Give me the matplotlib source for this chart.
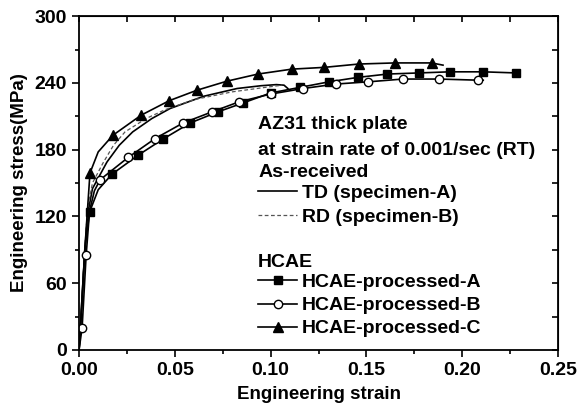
import matplotlib
matplotlib.use("Agg")
import matplotlib.pyplot as plt
from matplotlib.ticker import MultipleLocator, FormatStrFormatter

plt.rcParams["font.family"] = ["Liberation Sans", "DejaVu Sans"]
plt.rcParams["font.weight"] = "bold"

# --- data ---
# as-received, TD (solid) and RD (dashed)
td_strain = [0, 0.0015, 0.003, 0.0045, 0.007, 0.0146, 0.021, 0.028, 0.038, 0.0475,
             0.065, 0.0825, 0.095, 0.103, 0.107, 0.109]
td_stress = [0, 45, 90, 122, 145, 169, 184, 196, 208, 217, 228, 235, 237.5, 238.5, 238, 235]

rd_strain = [0, 0.0015, 0.003, 0.0045, 0.007, 0.0125, 0.018, 0.024, 0.035, 0.045,
             0.06, 0.08, 0.095, 0.106]
rd_stress = [0, 45, 92, 128, 150, 168, 184, 196, 208, 216, 225, 232, 235.5, 238]

# HCAE-processed-A (squares)
a_strain = [0, 0.0015, 0.003, 0.0055, 0.01, 0.0172, 0.0308, 0.0438, 0.058, 0.0725, 0.0856,
            0.100, 0.1153, 0.1305, 0.1456, 0.161, 0.1775, 0.1936, 0.211, 0.228]
a_stress = [0, 40, 90, 124, 144, 158, 175, 189.5, 204, 214, 222,
            231, 236, 241, 245, 248, 249, 250, 250, 249]
a_mark_strain = [0.0055, 0.0172, 0.0308, 0.0438, 0.058, 0.0725, 0.0856, 0.100, 0.1153,
                 0.1305, 0.1456, 0.161, 0.1775, 0.1936, 0.211, 0.228]
a_mark_stress = [124, 158, 175, 189.5, 204, 214, 222, 231, 236, 241, 245, 248, 249, 250, 250, 249]

# HCAE-processed-B (open circles)
b_strain = [0, 0.0016, 0.0037, 0.0055, 0.008, 0.011, 0.0256, 0.0397, 0.0543, 0.0694, 0.0835,
            0.100, 0.117, 0.134, 0.151, 0.169, 0.188, 0.208, 0.211]
b_stress = [0, 20, 85, 125, 143, 153, 173, 190, 204, 214, 223,
            230, 235, 239, 241, 243.5, 243.5, 242.5, 242.5]
b_mark_strain = [0.0016, 0.0037, 0.011, 0.0256, 0.0397, 0.0543, 0.0694, 0.0835, 0.100,
                 0.117, 0.134, 0.151, 0.169, 0.188, 0.208]
b_mark_stress = [20, 85, 153, 173, 190, 204, 214, 223, 230, 235, 239, 241, 243.5, 243.5, 242.5]

# HCAE-processed-C (triangles)
c_strain = [0, 0.002, 0.0037, 0.0057, 0.01, 0.0177, 0.0324, 0.047, 0.0616, 0.0772, 0.0934,
            0.111, 0.128, 0.146, 0.165, 0.184, 0.19]
c_stress = [0, 60, 108, 159, 178, 193, 211, 224, 233.5, 241.6, 248,
            252.4, 254, 257, 258, 258, 256]
c_mark_strain = [0.0057, 0.0177, 0.0324, 0.047, 0.0616, 0.0772, 0.0934, 0.111, 0.128,
                 0.146, 0.165, 0.184]
c_mark_stress = [159, 193, 211, 224, 233.5, 241.6, 248, 252.4, 254, 257, 258, 258]

fig = plt.figure(figsize=(5.77, 4.05), dpi=100)
ax = fig.add_axes([0.137, 0.136, 0.830, 0.824])

lw = 1.2
td_line, = ax.plot(td_strain, td_stress, color="black", lw=lw)
rd_line, = ax.plot(rd_strain, rd_stress, color="#555555", lw=0.9, ls=(0, (3, 2)))

la, = ax.plot(a_strain, a_stress, color="black", lw=lw)
ma, = ax.plot(a_mark_strain, a_mark_stress, ls="none", marker="s", ms=5.5,
              mfc="black", mec="black")
lc, = ax.plot(c_strain, c_stress, color="black", lw=lw)
mc, = ax.plot(c_mark_strain, c_mark_stress, ls="none", marker="^", ms=6.5,
              mfc="black", mec="black")
lb, = ax.plot(b_strain, b_stress, color="black", lw=lw)
mb, = ax.plot(b_mark_strain, b_mark_stress, ls="none", marker="o", ms=6,
              mfc="white", mec="black", mew=1.0)

ax.set_xlim(0, 0.25)
ax.set_ylim(0, 300)
ax.xaxis.set_major_locator(MultipleLocator(0.05))
ax.xaxis.set_minor_locator(MultipleLocator(0.025))
ax.xaxis.set_major_formatter(FormatStrFormatter("%.2f"))
ax.yaxis.set_major_locator(MultipleLocator(60))
ax.yaxis.set_minor_locator(MultipleLocator(30))
ax.tick_params(which="both", direction="out", width=1.2, labelsize=14)
ax.tick_params(which="major", length=5)
ax.tick_params(which="minor", length=3)
for s in ax.spines.values():
    s.set_linewidth(1.3)

# mirrored inward ticks on top and right
top = ax.secondary_xaxis("top")
top.xaxis.set_major_locator(MultipleLocator(0.05))
top.xaxis.set_minor_locator(MultipleLocator(0.025))
top.tick_params(which="both", direction="in", length=4, width=1.2, labeltop=False)
right = ax.secondary_yaxis("right")
right.yaxis.set_major_locator(MultipleLocator(60))
right.yaxis.set_minor_locator(MultipleLocator(30))
right.tick_params(which="both", direction="in", length=4, width=1.2, labelright=False)

ax.set_xlabel("Engineering strain", fontsize=13.5, fontweight="bold", labelpad=5)
ax.set_ylabel("Engineering stress(MPa)", fontsize=13.5, fontweight="bold", labelpad=5)

# annotation block
fs = 14
tx = 0.374
ax.text(tx, 0.674, "AZ31 thick plate", transform=ax.transAxes, fontsize=fs,
        fontweight="bold", va="center")
ax.text(tx, 0.599, "at strain rate of 0.001/sec (RT)", transform=ax.transAxes,
        fontsize=fs, fontweight="bold", va="center")
ax.text(tx, 0.533, "As-received", transform=ax.transAxes, fontsize=fs,
        fontweight="bold", va="center")
ax.text(tx, 0.263, "HCAE", transform=ax.transAxes, fontsize=fs,
        fontweight="bold", va="center")

leg_x = 0.358
leg1 = ax.legend([td_line, rd_line], ["TD (specimen-A)", "RD (specimen-B)"],
                 loc="center left", bbox_to_anchor=(leg_x, 0.434), frameon=False,
                 handlelength=2.0, handletextpad=0.26, labelspacing=0.34,
                 prop={"size": fs, "weight": "bold"}, borderaxespad=0)
ax.add_artist(leg1)
ax.legend([(la, ma), (lb, mb), (lc, mc)],
          ["HCAE-processed-A", "HCAE-processed-B", "HCAE-processed-C"],
          loc="center left", bbox_to_anchor=(leg_x, 0.133), frameon=False,
          handlelength=2.0, handletextpad=0.26, labelspacing=0.28,
          prop={"size": fs, "weight": "bold"}, borderaxespad=0)

fig.savefig("out.png", dpi=100)
